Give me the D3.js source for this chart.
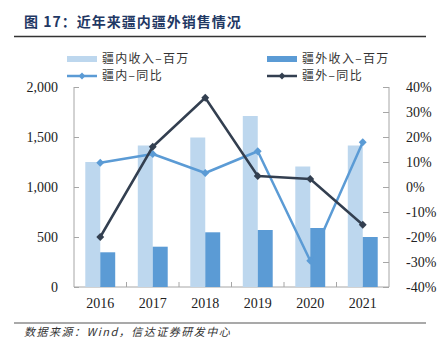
<!DOCTYPE html>
<meta charset="utf-8">
<style>
body { margin: 0; background: #fff; }
.axis path, .axis line { stroke: #a6a6a6; }
.axis text { font-family: "Liberation Serif", "Times New Roman", serif; font-size: 14px; fill: #222; }
.legend text { font-family: "Noto Sans CJK SC", sans-serif; font-size: 12px; fill: #333; letter-spacing: 1.3px; }
</style>
<svg width="443" height="340"></svg>
<script src="https://cdn.jsdelivr.net/npm/d3@7"></script>
<script>

var years = ["2016", "2017", "2018", "2019", "2020", "2021"];
var innerSales = [1250, 1415, 1495, 1710, 1205, 1415];   // 疆内收入-百万
var outerSales = [347, 403, 547, 570, 590, 500];         // 疆外收入-百万
var innerYoy = [9.7, 13.2, 5.6, 14.3, -29.5, 17.9];     // 疆内-同比 (%)
var outerYoy = [-20.0, 16.1, 35.7, 4.4, 3.2, -15.1];    // 疆外-同比 (%)
var leftTicks = [0, 500, 1000, 1500, 2000];
var rightTicks = [-40, -30, -20, -10, 0, 10, 20, 30, 40];

var svg = d3.select("svg");
var margin = {left: 74, right: 389, top: 87, bottom: 287};

var x0 = d3.scaleBand().domain(years).range([margin.left, margin.right])
    .paddingInner(0.43).paddingOuter(0.215);
var x1 = d3.scaleBand().domain(["in", "out"]).range([0, x0.bandwidth()]);
var yL = d3.scaleLinear().domain([0, 2000]).range([margin.bottom, margin.top]);
var yR = d3.scaleLinear().domain([-40, 40]).range([margin.bottom, margin.top]);

// title
svg.append("text")
    .attr("x", 24).attr("y", 27)
    .style("font-family", "'Noto Sans CJK SC', sans-serif")
    .style("font-size", "14px").style("font-weight", "bold")
    .style("letter-spacing", "1px")
    .style("fill", "#1f3864")
    .text("图 17：近年来疆内疆外销售情况");
svg.append("line").attr("x1", 14).attr("x2", 426).attr("y1", 36.5).attr("y2", 36.5)
    .style("stroke", "#333").style("stroke-width", 1.5);

// legend
var lg = svg.append("g").attr("class", "legend");
var legendItems = [
  {label: "疆内收入–百万", type: "bar", color: "#bdd7ee", x: 67, y: 59},
  {label: "疆外收入–百万", type: "bar", color: "#5b9bd5", x: 267, y: 59},
  {label: "疆内–同比", type: "line", color: "#5b9bd5", x: 67, y: 76},
  {label: "疆外–同比", type: "line", color: "#333f50", x: 267, y: 76}
];
legendItems.forEach(function(d) {
  if (d.type == "bar") {
    lg.append("rect").attr("x", d.x).attr("y", d.y - 3).attr("width", 30).attr("height", 6)
        .style("fill", d.color);
  } else {
    lg.append("line").attr("x1", d.x).attr("x2", d.x + 30).attr("y1", d.y).attr("y2", d.y)
        .style("stroke", d.color).style("stroke-width", 2.5);
    lg.append("path").attr("d", d3.symbol(d3.symbolDiamond2, 30)())
        .attr("transform", "translate(" + (d.x + 15) + "," + d.y + ")")
        .style("fill", d.color);
  }
  lg.append("text").attr("x", d.x + 35).attr("y", d.y).attr("dy", "0.36em").text(d.label);
});

// axes
svg.append("g").attr("class", "axis")
    .attr("transform", "translate(" + margin.left + ",0)")
    .call(d3.axisLeft(yL).tickValues(leftTicks).tickSize(-5).tickPadding(16)
        .tickFormat(d3.format(",")))
    .call(function(g) { g.select(".domain").attr("d", "M0," + margin.top + "V" + margin.bottom); });

svg.append("g").attr("class", "axis")
    .attr("transform", "translate(" + margin.right + ",0)")
    .call(d3.axisRight(yR).tickValues(rightTicks).tickSize(-6).tickPadding(17)
        .tickFormat(function(d) { return d + "%"; }))
    .call(function(g) { g.select(".domain").attr("d", "M0," + margin.top + "V" + margin.bottom); });

var xa = svg.append("g").attr("class", "axis")
    .attr("transform", "translate(0," + margin.bottom + ")")
    .call(d3.axisBottom(x0).tickSize(0).tickPadding(11));
xa.select(".domain").attr("d", "M" + margin.left + ",0H" + margin.right);
years.slice(1).forEach(function(c) {
  var bx = x0(c) + x0.bandwidth() / 2 - x0.step() / 2;
  xa.append("line").attr("x1", bx).attr("x2", bx).attr("y1", 0).attr("y2", -5);
});

// bars
var groups = svg.append("g").selectAll("g")
    .data(years)
    .enter().append("g")
      .attr("transform", function(d) { return "translate(" + x0(d) + ",0)"; });
groups.append("rect")
    .attr("x", x1("in")).attr("width", x1.bandwidth())
    .attr("y", function(d, i) { return yL(innerSales[i]); })
    .attr("height", function(d, i) { return yL(0) - yL(innerSales[i]); })
    .style("fill", "#bdd7ee");
groups.append("rect")
    .attr("x", x1("out")).attr("width", x1.bandwidth())
    .attr("y", function(d, i) { return yL(outerSales[i]); })
    .attr("height", function(d, i) { return yL(0) - yL(outerSales[i]); })
    .style("fill", "#5b9bd5");

// lines
function drawLine(values, color) {
  var line = d3.line()
      .x(function(d, i) { return x0(years[i]) + x0.bandwidth() / 2; })
      .y(function(d) { return yR(d); });
  svg.append("path").datum(values)
      .attr("d", line)
      .style("fill", "none").style("stroke", color).style("stroke-width", 2.5)
      .style("stroke-linejoin", "round");
  svg.append("g").selectAll("path")
      .data(values)
      .enter().append("path")
        .attr("d", d3.symbol(d3.symbolDiamond2, 40)())
        .attr("transform", function(d, i) {
          return "translate(" + (x0(years[i]) + x0.bandwidth() / 2) + "," + yR(d) + ")";
        })
        .style("fill", color);
}
drawLine(innerYoy, "#5b9bd5");
drawLine(outerYoy, "#333f50");

// source
svg.append("line").attr("x1", 14).attr("x2", 426).attr("y1", 323).attr("y2", 323)
    .style("stroke", "#555").style("stroke-width", 1.2);
svg.append("text")
    .attr("x", 24).attr("y", 336)
    .style("font-family", "'Noto Sans CJK SC', sans-serif")
    .style("font-size", "11px").style("font-style", "italic").style("fill", "#333")
    .style("letter-spacing", "1.5px")
    .text("数据来源：Wind，信达证券研发中心");

</script>
